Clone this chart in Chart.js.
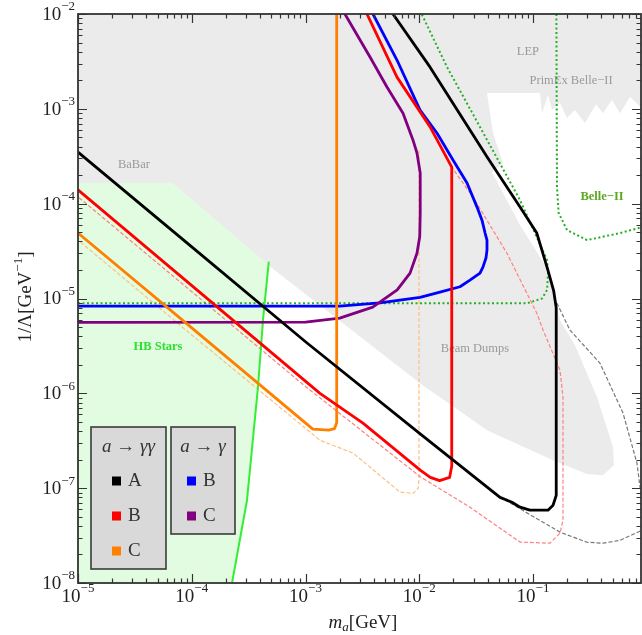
<!DOCTYPE html>
<html>
<head>
<meta charset="utf-8">
<script src="https://cdn.jsdelivr.net/npm/chart.js@4.4.1/dist/chart.umd.min.js"></script>
<style>
  html, body { margin: 0; padding: 0; background: #fff; }
  #wrap { width: 642px; height: 635px; }
</style>
</head>
<body>
<div id="wrap"><canvas id="grafico" width="642" height="635"></canvas></div>
<script>
// ==========================================
// 1. DATOS  (m_a [GeV], 1/Lambda [GeV^-1])
// ==========================================

const X_MIN = 1e-5, X_MAX = 0.89;
const Y_MIN = 1e-8, Y_MAX = 1e-2;
const expX = [-5, -4, -3, -2, -1];
const expY = [-8, -7, -6, -5, -4, -3, -2];

// region gris: BaBar + LEP + PrimEx/Belle-II + Beam Dumps
const regionExcluida = [
    [1e-5, 1e-2], [1.0, 1e-2], [1.0, 9.0e-4], [0.713, 1.33e-3], [0.582, 9.0e-4],
    [0.494, 1.24e-3], [0.412, 9.0e-4], [0.358, 1.12e-3], [0.286, 7.1e-4], [0.234, 9.7e-4],
    [0.199, 8.0e-4], [0.1726, 1.15e-3], [0.147, 9.7e-4], [0.1355, 1.40e-3], [0.120, 9.0e-4],
    [0.115, 1.47e-3], [0.0394, 1.47e-3], [0.0445, 5.56e-4], [0.0545, 2.68e-4], [0.0436, 2.15e-4],
    [0.0769, 5.94e-5], [0.1355, 2.0e-5], [0.1726, 5.9e-6], [0.234, 3.22e-6], [0.366, 9.1e-7],
    [0.505, 2.71e-7], [0.515, 1.75e-7], [0.412, 1.37e-7], [0.298, 1.41e-7], [0.150, 1.97e-7],
    [0.0394, 4.09e-7], [0.01016, 1.28e-6], [4.68e-4, 2.25e-5], [6.7e-5, 1.65e-4], [1e-5, 1.65e-4]
];

// region verde: HB Stars
const regionHB = [
    [1e-5, 1.65e-4], [6.7e-5, 1.65e-4], [4.68e-4, 2.3e-5], [4.4e-4, 9.6e-6], [4.23e-4, 5.9e-6],
    [3.82e-4, 1.16e-6], [3.06e-4, 7.46e-8], [2.26e-4, 1e-8], [1e-5, 1e-8]
];
const lineaHB = [
    [4.75e-4, 2.4e-5], [4.4e-4, 9.6e-6], [4.23e-4, 5.9e-6], [3.82e-4, 1.16e-6],
    [3.06e-4, 7.46e-8], [2.26e-4, 1e-8]
];

// a -> gamma gamma
const curvaA = [
    [5.87e-3, 1e-2], [0.01245, 2.75e-3], [0.0395, 3.1e-4], [0.0769, 9.2e-5], [0.108, 4.9e-5],
    [0.135, 2.0e-5], [0.152, 1.2e-5], [0.16, 8.0e-6], [0.16, 8.4e-8], [0.15, 6.6e-8],
    [0.1355, 5.86e-8], [0.094, 5.86e-8], [0.0769, 6.3e-8], [0.0653, 7.1e-8], [0.0513, 8.0e-8],
    [0.01, 3.8e-7], [1e-3, 3.5e-6], [1e-4, 3.5e-5], [1e-5, 3.5e-4]
];
const curvaAdisc = [
    [0.0568, 7.5e-8], [0.1725, 3.44e-8], [0.298, 2.69e-8], [0.412, 2.63e-8], [0.582, 2.82e-8],
    [0.908, 3.6e-8], [0.97, 4.5e-8], [0.94, 6.5e-8], [0.873, 1.02e-7], [0.82, 1.84e-7],
    [0.618, 6.2e-7], [0.388, 2.08e-6], [0.211, 4.65e-6], [0.1625, 8.9e-6]
];
const curvaB = [
    [3.47e-3, 1e-2], [6.37e-3, 2.16e-3], [0.01245, 6.45e-4], [0.0193, 2.43e-4], [0.0193, 1.7e-7],
    [0.0185, 1.3e-7], [0.0151, 1.2e-7], [0.0125, 1.3e-7], [0.0102, 1.55e-7], [3.2e-3, 4.85e-7],
    [1.34e-3, 1.0e-6], [1e-5, 1.4e-4]
];
const curvaBdisc = [
    [3.47e-3, 1e-2], [6.37e-3, 2.16e-3], [0.01245, 6.45e-4], [0.0193, 2.43e-4], [0.0297, 1.17e-4],
    [0.059, 3.0e-5], [0.108, 7.0e-6], [0.1225, 4.65e-6], [0.1726, 1.76e-6], [0.1835, 9.1e-7],
    [0.1835, 4.6e-8], [0.1726, 3.35e-8], [0.141, 2.63e-8], [0.0769, 2.7e-8], [0.0279, 6.3e-8],
    [0.0102, 1.32e-7], [1e-3, 1.18e-6], [1e-4, 1.18e-5], [1e-5, 1.18e-4]
];
const curvaC = [
    [1.88e-3, 1e-2], [1.88e-3, 4.9e-7], [1.8e-3, 4.25e-7], [1.6e-3, 4.1e-7], [1.16e-3, 4.2e-7],
    [1e-4, 4.9e-6], [1e-5, 4.9e-5]
];
const curvaCdisc = [
    [9.95e-3, 3.67e-4], [9.95e-3, 1.3e-7], [9.8e-3, 1.0e-7], [8.8e-3, 8.8e-8], [6.76e-3, 9.1e-8],
    [2.62e-3, 2.34e-7], [1.34e-3, 3.2e-7], [1e-4, 4.13e-6], [1e-5, 4.13e-5]
];

// a -> gamma
const curvaBgamma = [
    [1e-5, 8.3e-6], [2e-3, 8.3e-6], [4.5e-3, 9.0e-6], [0.01016, 1.03e-5], [0.0152, 1.17e-5],
    [0.0228, 1.33e-5], [0.0279, 1.56e-5], [0.0342, 1.85e-5], [0.0363, 2.14e-5], [0.0386, 2.67e-5],
    [0.0394, 3.24e-5], [0.0394, 4.13e-5], [0.0379, 4.9e-5], [0.0356, 6.7e-5], [0.0322, 9.2e-5],
    [0.0263, 1.65e-4], [0.0198, 2.88e-4], [0.0143, 5.56e-4], [0.01016, 9.7e-4], [6.37e-3, 3.27e-3],
    [3.92e-3, 1e-2]
];
const curvaCgamma = [
    [1e-5, 5.6e-6], [1e-3, 5.64e-6], [2e-3, 6.2e-6], [3.9e-3, 8.1e-6], [6.4e-3, 1.23e-5],
    [8.3e-3, 1.85e-5], [9.55e-3, 3.0e-5], [0.0101, 4.5e-5], [0.0102, 8.0e-5], [0.0102, 2.1e-4],
    [9.55e-3, 3.42e-4], [8.8e-3, 4.7e-4], [7.2e-3, 9.0e-4], [5.2e-3, 1.7e-3], [3.69e-3, 3.52e-3],
    [2.22e-3, 1e-2]
];

// Belle-II (punteado)
const belleII_a = [
    [1e-5, 8.9e-6], [0.0885, 8.9e-6], [0.12, 1.0e-5], [0.133, 1.23e-5], [0.1355, 1.85e-5],
    [0.133, 2.54e-5], [0.0769, 1.09e-4], [0.0342, 6.43e-4], [0.01754, 2.76e-3], [0.0105, 1e-2]
];
const belleII_b = [
    [0.1605, 1e-2], [0.1625, 1.5e-4], [0.168, 8.0e-5], [0.199, 5.27e-5], [0.2985, 4.13e-5],
    [0.582, 4.9e-5], [0.908, 5.66e-5], [1.0, 5.9e-5]
];

// etiquetas de las regiones
const etiquetas  = ['BaBar', 'LEP', 'PrimEx Belle\u2212II', 'Beam Dumps', 'HB Stars', 'Belle\u2212II'];
const etiquetasX = [3.1e-5, 0.0903, 0.216, 0.0309, 5.05e-5, 0.405];
const etiquetasY = [2.55e-4, 3.97e-3, 1.96e-3, 2.92e-6, 3.07e-6, 1.17e-4];
const etiquetasColor = ['#9a9a9a', '#9a9a9a', '#9a9a9a', '#9a9a9a', '#2ee02e', '#5da822'];

// ==========================================
// 2. ESTILOS
// ==========================================

const SERIF = '"Liberation Serif", "DejaVu Serif", serif';
const NEGRO = '#000000', ROJO = '#ff0000', NARANJA = '#ff8000', AZUL = '#0000ff', MORADO = '#800080';

const pts = arr => arr.map(p => ({ x: p[0], y: p[1] }));

function region(arr, color, orden) {
    return { data: pts(arr), showLine: true, fill: 'shape', backgroundColor: color,
             borderWidth: 0, borderColor: 'rgba(0,0,0,0)', pointRadius: 0, order: orden };
}
function linea(arr, color, ancho, guiones, orden) {
    return { data: pts(arr), showLine: true, fill: false, borderColor: color, borderWidth: ancho,
             borderDash: guiones || [], borderJoinStyle: 'round', borderCapStyle: guiones ? 'butt' : 'round',
             pointRadius: 0, tension: 0, order: orden };
}

// ==========================================
// 3. PLUGIN: ejes, ticks, etiquetas y leyenda
// ==========================================

function textoPotencia(ctx, exp, x, y, alinear) {
    const base = '10', sup = '\u2212' + (-exp);
    ctx.font = '19px ' + SERIF;
    const wb = ctx.measureText(base).width;
    ctx.font = '13px ' + SERIF;
    const ws = ctx.measureText(sup).width;
    const x0 = alinear === 'right' ? x - wb - ws : x - (wb + ws) / 2;
    ctx.textAlign = 'left';
    ctx.textBaseline = 'middle';
    ctx.fillStyle = '#222';
    ctx.font = '19px ' + SERIF;
    ctx.fillText(base, x0, y);
    ctx.font = '13px ' + SERIF;
    ctx.fillText(sup, x0 + wb, y - 8);
}

const pluginMarco = {
    id: 'marco',
    afterDatasetDraw(chart, args) {
        if (args.index !== 1) return; // justo despues de las regiones sombreadas
        const ctx = chart.ctx, xs = chart.scales.x, ys = chart.scales.y;
        ctx.save();
        ctx.textAlign = 'center';
        ctx.textBaseline = 'middle';
        etiquetas.forEach((t, i) => {
            ctx.font = (i >= 4 ? 'bold ' : '') + '12.5px ' + SERIF;
            ctx.fillStyle = etiquetasColor[i];
            ctx.fillText(t, xs.getPixelForValue(etiquetasX[i]), ys.getPixelForValue(etiquetasY[i]));
        });
        ctx.restore();
    },
    afterDatasetsDraw(chart) {
        const ctx = chart.ctx;
        ctx.save();
        const cajas = [
            { x: 91, y: 427, w: 75, h: 142, dq: 21, titulo: 'a \u2192 \u03b3\u03b3',
              items: [['A', NEGRO], ['B', ROJO], ['C', NARANJA]] },
            { x: 171, y: 427, w: 64, h: 107, dq: 16, titulo: 'a \u2192 \u03b3',
              items: [['B', AZUL], ['C', MORADO]] }
        ];
        cajas.forEach(c => {
            ctx.fillStyle = '#d9d9d9';
            ctx.fillRect(c.x, c.y, c.w, c.h);
            ctx.strokeStyle = '#3a3a3a';
            ctx.lineWidth = 1.6;
            ctx.strokeRect(c.x, c.y, c.w, c.h);
            ctx.fillStyle = '#333';
            ctx.textBaseline = 'middle';
            ctx.textAlign = 'center';
            ctx.font = 'italic 19px ' + SERIF;
            ctx.fillText(c.titulo, c.x + c.w / 2, c.y + 20);
            c.items.forEach((it, j) => {
                const yy = c.y + 54 + j * 35;
                const xq = c.x + c.dq;
                ctx.fillStyle = it[1];
                ctx.fillRect(xq, yy - 4.5, 9, 9);
                ctx.fillStyle = '#333';
                ctx.textAlign = 'left';
                ctx.font = '19px ' + SERIF;
                ctx.fillText(it[0], xq + 16, yy);
            });
        });
        ctx.restore();
    },
    afterDraw(chart) {
        const ctx = chart.ctx, xs = chart.scales.x, ys = chart.scales.y;
        const { left, right, top, bottom } = chart.chartArea;
        ctx.save();
        ctx.strokeStyle = '#333';
        ctx.lineWidth = 1.2;
        ctx.beginPath();
        for (let e = -6; e <= 0; e++) {
            for (let k = 1; k <= 9; k++) {
                const v = k * Math.pow(10, e);
                const len = k === 1 ? 9 : 4.5;
                if (v >= X_MIN * 0.999 && v <= X_MAX) {
                    const px = Math.round(xs.getPixelForValue(v)) + 0.5;
                    ctx.moveTo(px, bottom); ctx.lineTo(px, bottom - len);
                    ctx.moveTo(px, top); ctx.lineTo(px, top + len);
                }
            }
        }
        for (let e = -9; e <= -2; e++) {
            for (let k = 1; k <= 9; k++) {
                const v = k * Math.pow(10, e);
                const len = k === 1 ? 9 : 4.5;
                if (v >= Y_MIN * 0.999 && v <= Y_MAX * 1.001) {
                    const py = Math.round(ys.getPixelForValue(v)) + 0.5;
                    ctx.moveTo(left, py); ctx.lineTo(left + len, py);
                    ctx.moveTo(right, py); ctx.lineTo(right - len, py);
                }
            }
        }
        ctx.stroke();
        // marco
        ctx.lineWidth = 1.8;
        ctx.strokeStyle = '#333';
        ctx.strokeRect(left, top, right - left, bottom - top);

        // etiquetas de los ejes
        expX.forEach(e => textoPotencia(ctx, e, xs.getPixelForValue(Math.pow(10, e)), bottom + 14, 'center'));
        expY.forEach(e => textoPotencia(ctx, e, left - 3, ys.getPixelForValue(Math.pow(10, e)) + 1, 'right'));

        // titulo eje x: m_a[GeV]
        ctx.fillStyle = '#222';
        ctx.textBaseline = 'alphabetic';
        ctx.textAlign = 'left';
        ctx.font = 'italic 19px ' + SERIF;
        const wm = ctx.measureText('m').width;
        ctx.font = 'italic 13px ' + SERIF;
        const wa = ctx.measureText('a').width;
        ctx.font = '19px ' + SERIF;
        const wg = ctx.measureText('[GeV]').width;
        let x0 = 363 - (wm + wa + wg) / 2;
        const yb = 628;
        ctx.font = 'italic 19px ' + SERIF; ctx.fillText('m', x0, yb);
        ctx.font = 'italic 13px ' + SERIF; ctx.fillText('a', x0 + wm, yb + 3);
        ctx.font = '19px ' + SERIF; ctx.fillText('[GeV]', x0 + wm + wa, yb);

        // titulo eje y: 1/Lambda[GeV^-1]
        ctx.translate(26, 297);
        ctx.rotate(-Math.PI / 2);
        ctx.textBaseline = 'middle';
        ctx.font = '19px ' + SERIF;
        const w1 = ctx.measureText('1/\u039b[GeV').width;
        ctx.font = '13px ' + SERIF;
        const w2 = ctx.measureText('\u22121').width;
        ctx.font = '19px ' + SERIF;
        const w3 = ctx.measureText(']').width;
        const xi = -(w1 + w2 + w3) / 2;
        ctx.fillText('1/\u039b[GeV', xi, 0);
        ctx.font = '13px ' + SERIF; ctx.fillText('\u22121', xi + w1, -7);
        ctx.font = '19px ' + SERIF; ctx.fillText(']', xi + w1 + w2, 0);
        ctx.restore();
    }
};

// ==========================================
// 4. GRAFICO
// ==========================================

new Chart(document.getElementById('grafico'), {
    type: 'scatter',
    data: {
        datasets: [
            region(regionExcluida, '#ebebeb', 30),
            region(regionHB, '#e2fce2', 29),
            linea(curvaCdisc, '#ffbf80', 1.2, [4, 2], 12),
            linea(curvaBdisc, '#ff8080', 1.2, [4, 2], 11),
            linea(curvaAdisc, '#777777', 1.2, [4, 2], 10),
            linea(belleII_a, '#22b022', 2, [2, 2.5], 9),
            linea(belleII_b, '#22b022', 2, [2, 2.5], 8),
            linea(lineaHB, '#33ee33', 2, null, 7),
            linea(curvaBgamma, AZUL, 2.8, null, 6),
            linea(curvaCgamma, MORADO, 2.8, null, 5),
            linea(curvaC, NARANJA, 2.8, null, 4),
            linea(curvaB, ROJO, 2.8, null, 3),
            linea(curvaA, NEGRO, 2.8, null, 2)
        ]
    },
    options: {
        responsive: false,
        animation: false,
        events: [],
        layout: { padding: { left: 78, right: 1, top: 14, bottom: 52 } },
        plugins: { legend: { display: false }, tooltip: { enabled: false } },
        scales: {
            x: { type: 'logarithmic', min: X_MIN, max: X_MAX, display: false },
            y: { type: 'logarithmic', min: Y_MIN, max: Y_MAX, display: false }
        }
    },
    plugins: [pluginMarco]
});
</script>
</body>
</html>
